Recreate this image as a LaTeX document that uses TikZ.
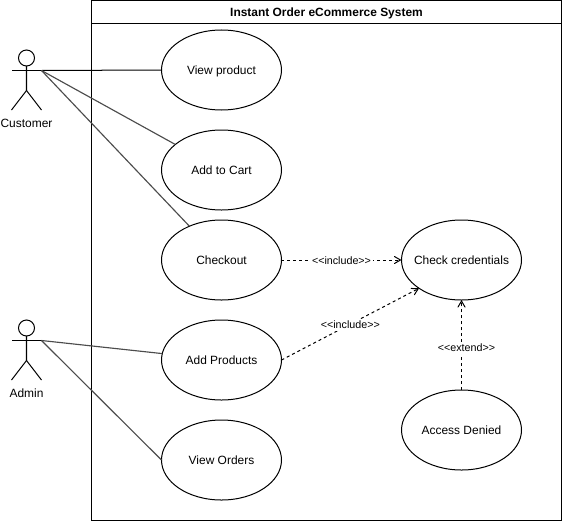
\documentclass[tikz,border=0pt]{standalone}
\usepackage{fontspec}
\setmainfont{Liberation Sans}
\usepackage{tikz}
\usetikzlibrary{shapes.geometric, arrows}
\tikzstyle{usecase} = [ellipse, minimum width=2.4cm, minimum height=1.6cm, inner sep=0pt, inner xsep=-0.3cm, outer sep=0pt, text centered, text depth=0pt, draw=black, line width=0.57pt, font=\fontsize{6.8pt}{8pt}\selectfont]
\tikzstyle{sysframe} = [rectangle, minimum width=9.4cm, minimum height=10.4cm, outer sep=0pt, draw=black, line width=0.57pt]
\tikzstyle{systitle} = [rectangle, minimum width=9.4cm, minimum height=0.46cm, inner sep=0pt, outer sep=0pt, text centered, text depth=0pt, draw=black, line width=0.57pt, font=\fontsize{6.8pt}{8pt}\selectfont\bfseries]
\tikzstyle{actorhead} = [circle, minimum size=0.32cm, inner sep=0pt, outer sep=0pt, draw=black, line width=0.57pt]
\tikzstyle{actorlabel} = [inner sep=0pt, font=\fontsize{6.8pt}{8pt}\selectfont]
\tikzstyle{edgelabel} = [inner sep=1pt, fill=white, yshift=-0.02cm, font=\fontsize{6.1pt}{7pt}\selectfont]
\tikzstyle{assoc} = [line width=0.57pt, black]
\tikzstyle{assocgray} = [line width=0.65pt, black!70]
\tikzstyle{dep} = [line width=0.57pt, dash pattern=on 1.7pt off 1.7pt, ->, >=angle 60]

\begin{document}
\begin{tikzpicture}[node distance=2cm]
		\useasboundingbox (0,0) rectangle (11.24,-10.42);
		% System box
		\node (System) [sysframe] at (6.53,-5.21) {};
		\node (Title) [systitle, anchor=north] at (System.north) {Instant Order eCommerce System};
		% Use cases
		\node (View) [usecase] at (4.43,-1.4) {View product};
		\node (Cart) [usecase, below of = View] {Add to Cart};
		\node (Checkout) [usecase, below of = Cart, yshift = 0.2cm] {Checkout};
		\node (Products) [usecase, below of = Checkout] {Add Products};
		\node (Orders) [usecase, below of = Products] {View Orders};
		\node (Credentials) [usecase, right of = Checkout, xshift = 2.8cm] {Check credentials};
		\node (Denied) [usecase, below of = Credentials, yshift = -1.4cm] {Access Denied};
		% Actors
		\node (CustomerHead) [actorhead] at (0.53,-1.16) {};
		\coordinate (CustomerHand) at (0.83,-1.41);
		\draw [assoc] (CustomerHand) -- ++(-0.6,0);
		\draw [assoc] (CustomerHead.south) -- ++(0,-0.49) coordinate (CustomerHip) -- ++(-0.3,-0.39);
		\draw [assoc] (CustomerHip) -- ++(0.3,-0.39);
		\node (Customer) [actorlabel] at (0.53,-2.46) {Customer};
		\node (AdminHead) [actorhead] at (0.53,-6.56) {};
		\coordinate (AdminHand) at (0.83,-6.81);
		\draw [assoc] (AdminHand) -- ++(-0.6,0);
		\draw [assoc] (AdminHead.south) -- ++(0,-0.49) coordinate (AdminHip) -- ++(-0.3,-0.39);
		\draw [assoc] (AdminHip) -- ++(0.3,-0.39);
		\node (Admin) [actorlabel] at (0.53,-7.86) {Admin};
		% Arrows
		\draw [assoc] (CustomerHand) -- (View.west);
		\draw [assocgray] (CustomerHand) -- (Cart);
		\draw [assocgray] (CustomerHand) -- (Checkout);
		\draw [assocgray] (AdminHand) -- (Products);
		\draw [assocgray] (AdminHand) -- (Orders.west);
		\draw [dep] (Checkout.east) -- node (IncludeA) [edgelabel] {<{}<include>{}>} (Credentials.west);
		\draw [dep] (Products.east) -- node (IncludeB) [edgelabel] {<{}<include>{}>} (Credentials.south west);
		\draw [dep] (Denied.north) -- node (Extend) [edgelabel, xshift = 0.1cm, yshift = -0.04cm] {<{}<extend>{}>} (Credentials.south);
	\end{tikzpicture}
\end{document}
